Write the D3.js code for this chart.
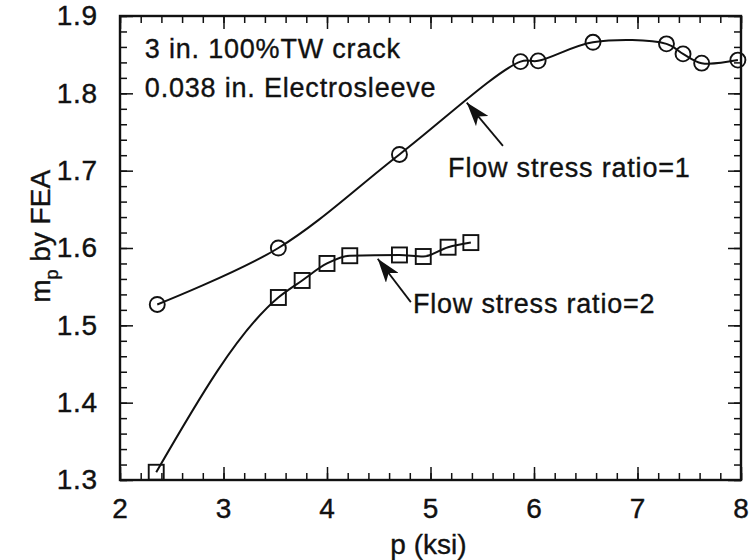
<!DOCTYPE html>
<html>
<head>
<meta charset="utf-8">
<script src="https://cdn.jsdelivr.net/npm/d3@7"></script>
<style>
  body { margin: 0; background: #fff; }
  svg { display: block; font-family: "Liberation Sans", Arial, Helvetica, sans-serif; }
  .tick text { font-size: 28px; fill: #111; letter-spacing: 0.8px; stroke: #111; stroke-width: 0.4px; }
  .tick line { stroke: #111; stroke-width: 1.5; }
  .note { font-size: 27px; fill: #111; letter-spacing: 0.8px; stroke: #111; stroke-width: 0.35px; }
  .title { font-size: 28px; fill: #111; stroke: #111; stroke-width: 0.35px; }
</style>
</head>
<body>
<svg></svg>
<script>
var margin = { top: 16, bottom: 80, left: 120, right: 9 };
var width = 750 - margin.left - margin.right;
var height = 560 - margin.top - margin.bottom;

// flow stress ratio = 1 (circles)
const pRatio1 = [2.36, 3.53, 4.70, 5.87, 6.04, 6.57, 7.28, 7.44, 7.62, 7.97];
const mRatio1 = [1.527, 1.600, 1.721, 1.841, 1.842, 1.866, 1.864, 1.851, 1.839, 1.843];

// flow stress ratio = 2 (squares)
const pRatio2 = [2.35, 3.53, 3.76, 4.00, 4.22, 4.70, 4.93, 5.17, 5.39];
const mRatio2 = [1.310, 1.536, 1.558, 1.580, 1.590, 1.591, 1.589, 1.601, 1.607];

const xTicks = [2, 3, 4, 5, 6, 7, 8];
const yTicks = [1.3, 1.4, 1.5, 1.6, 1.7, 1.8, 1.9];

const svg = d3.select("svg")
    .attr("width", width + margin.left + margin.right)
    .attr("height", height + margin.top + margin.bottom)
    .append("g")
    .attr("transform", `translate(${margin.left},${margin.top})`);

const x = d3.scaleLinear().domain([2, 8]).range([0, width]);
const y = d3.scaleLinear().domain([1.3, 1.9]).range([height, 0]);

const xMinor = d3.range(2, 8.001, 0.2).map(v => +v.toFixed(1));
const yMinor = d3.range(1.3, 1.9001, 0.02).map(v => +v.toFixed(2));

// minor ticks, all four sides, pointing inward
function minor(axis, vals, tr) {
    svg.append("g")
        .attr("transform", tr)
        .call(axis.tickValues(vals).tickSize(-7).tickFormat(""))
        .call(g => g.select(".domain").remove());
}
minor(d3.axisBottom(x), xMinor, `translate(0,${height})`);
minor(d3.axisTop(x), xMinor, "translate(0,0)");
minor(d3.axisLeft(y), yMinor, "translate(0,0)");
minor(d3.axisRight(y), yMinor, `translate(${width},0)`);

// major ticks
svg.append("g")
    .attr("transform", `translate(0,${height})`)
    .call(d3.axisBottom(x).tickValues(xTicks).tickSize(-13).tickPadding(18).tickFormat(d3.format("d")))
    .call(g => g.select(".domain").remove());

svg.append("g")
    .call(d3.axisTop(x).tickValues(xTicks).tickSize(-13).tickFormat(""))
    .call(g => g.select(".domain").remove());

svg.append("g")
    .call(d3.axisLeft(y).tickValues(yTicks).tickSize(-13).tickPadding(22).tickFormat(d3.format(".1f")))
    .call(g => g.select(".domain").remove());

svg.append("g")
    .attr("transform", `translate(${width},0)`)
    .call(d3.axisRight(y).tickValues(yTicks).tickSize(-13).tickFormat(""))
    .call(g => g.select(".domain").remove());

svg.selectAll(".tick text").attr("font-family", null).attr("font-size", null);

// frame
svg.append("rect")
    .attr("width", width)
    .attr("height", height)
    .attr("fill", "none")
    .attr("stroke", "#111")
    .attr("stroke-width", 2.4);

// axis titles
svg.append("text")
    .attr("class", "title")
    .attr("x", x(4.98))
    .attr("y", height + 74)
    .attr("text-anchor", "middle")
    .text("p (ksi)");

const yl = svg.append("text")
    .attr("class", "title")
    .attr("transform", `translate(-70,${y(1.615)}) rotate(-90)`)
    .attr("text-anchor", "middle");
yl.append("tspan").text("m");
yl.append("tspan").attr("font-size", 18).attr("dy", 8).text("p");
yl.append("tspan").attr("dy", -8).text(" by FEA");

// curves
const line1 = d3.line()
    .x(d => x(d[0]))
    .y(d => y(d[1]))
    .curve(d3.curveCatmullRom.alpha(0.5));

const line2 = d3.line()
    .x(d => x(d[0]))
    .y(d => y(d[1]))
    .curve(d3.curveMonotoneX);

const s1 = pRatio1.map((p, i) => [p, mRatio1[i]]);
const s2 = pRatio2.map((p, i) => [p, mRatio2[i]]);

svg.append("path")
    .datum(s1)
    .attr("d", line1)
    .attr("fill", "none")
    .attr("stroke", "#111")
    .attr("stroke-width", 2);

svg.append("path")
    .datum(s2)
    .attr("d", line2)
    .attr("fill", "none")
    .attr("stroke", "#111")
    .attr("stroke-width", 2);

svg.selectAll(".circ")
    .data(s1)
    .enter().append("circle")
    .attr("class", "circ")
    .attr("cx", d => x(d[0]))
    .attr("cy", d => y(d[1]))
    .attr("r", 7.5)
    .attr("fill", "none")
    .attr("stroke", "#111")
    .attr("stroke-width", 1.9);

svg.selectAll(".sq")
    .data(s2)
    .enter().append("rect")
    .attr("class", "sq")
    .attr("x", d => x(d[0]) - 7.5)
    .attr("y", d => y(d[1]) - 7.5)
    .attr("width", 15)
    .attr("height", 15)
    .attr("fill", "none")
    .attr("stroke", "#111")
    .attr("stroke-width", 1.9);

// annotations
svg.append("defs").append("marker")
    .attr("id", "head")
    .attr("viewBox", "0 0 24 16")
    .attr("refX", 24)
    .attr("refY", 8)
    .attr("markerWidth", 24)
    .attr("markerHeight", 16)
    .attr("markerUnits", "userSpaceOnUse")
    .attr("orient", "auto")
    .append("path")
    .attr("d", "M0,0 L24,8 L0,16 L6,8 Z")
    .attr("fill", "#111");

const arrows = [
    { from: [5.70, 1.732], to: [5.35, 1.788] },
    { from: [4.81, 1.530], to: [4.49, 1.586] }
];
svg.selectAll(".arrow")
    .data(arrows)
    .enter().append("line")
    .attr("class", "arrow")
    .attr("x1", d => x(d.from[0]))
    .attr("y1", d => y(d.from[1]))
    .attr("x2", d => x(d.to[0]))
    .attr("y2", d => y(d.to[1]))
    .attr("stroke", "#111")
    .attr("stroke-width", 1.8)
    .attr("marker-end", "url(#head)");

const notes = [
    { p: 2.24, m: 1.846, t: "3 in. 100%TW crack" },
    { p: 2.24, m: 1.795, t: "0.038 in. Electrosleeve" },
    { p: 5.17, m: 1.692, t: "Flow stress ratio=1" },
    { p: 4.83, m: 1.516, t: "Flow stress ratio=2" }
];
svg.selectAll(".note")
    .data(notes)
    .enter().append("text")
    .attr("class", "note")
    .attr("x", d => x(d.p))
    .attr("y", d => y(d.m))
    .text(d => d.t);
</script>
</body>
</html>
